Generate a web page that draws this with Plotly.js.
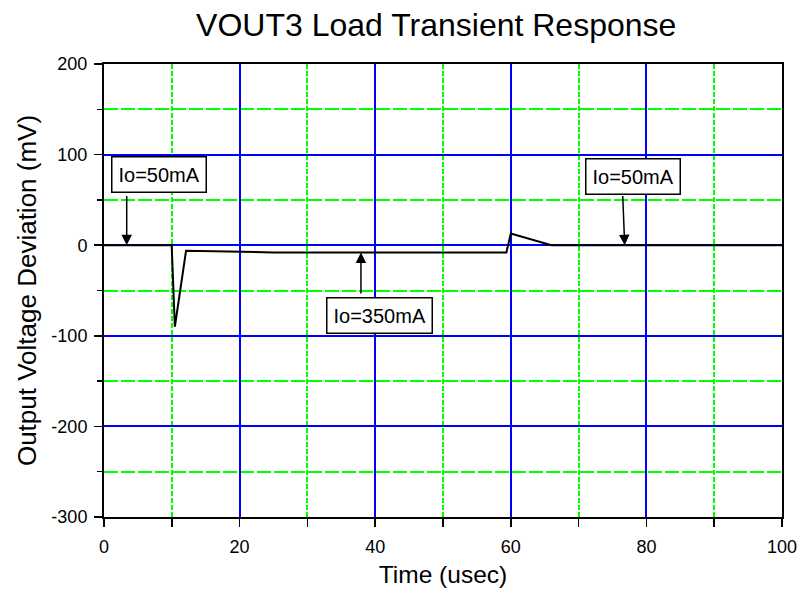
<!DOCTYPE html>
<html><head><meta charset="utf-8">
<script src="https://cdn.plot.ly/plotly-3.0.1.min.js"></script>
<style>html,body{margin:0;padding:0;background:#fff}#chart{width:800px;height:596px}</style>
</head><body><div id="chart"></div>
<script>
var timeUs = [0, 9.98, 10.45, 12.1, 25, 59.35, 60.0, 66.0, 100];
var deviationMv = [0, 0, -90, -6.2, -8, -8, 13, 0, 0];
var xTickVals = [0, 20, 40, 60, 80, 100];
var xTickText = ["0", "20", "40", "60", "80", "100"];
var yTickVals = [200, 100, 0, -100, -200, -300];
var yTickText = ["200", "100", "0", "-100", "-200", "-300"];
var labels = ["Io=50mA", "Io=350mA", "Io=50mA"];
var labelX = [8.1, 40.6, 78.0];
var labelY = [77.5, -77.5, 75.5];
var arrowHeadX = [3.35, 37.9, 76.8];
var arrowHeadY = [0, -8, 0];
var arrowTailX = [3.35, 37.9, 76.5];
var arrowTailY = [56, -55, 56];

var annotations = [];
for (var i = 0; i < labels.length; i++) {
  annotations.push({
    x: arrowHeadX[i], y: arrowHeadY[i], xref: 'x', yref: 'y',
    ax: arrowTailX[i], ay: arrowTailY[i], axref: 'x', ayref: 'y',
    text: '', showarrow: true, arrowhead: 2, arrowsize: 1.4, arrowwidth: 1.5, arrowcolor: '#000', standoff: 0, startstandoff: 0
  });
  annotations.push({
    x: labelX[i], y: labelY[i], xref: 'x', yref: 'y', text: labels[i], showarrow: false,
    font: {family: 'Liberation Sans, Arial', size: 20, color: '#000'},
    bgcolor: '#fff', bordercolor: '#000', borderwidth: 1.5, borderpad: 6
  });
}

var trace = {x: timeUs, y: deviationMv, type: 'scatter', mode: 'lines', line: {color: '#000', width: 2}, hoverinfo: 'none'};

var layout = {
  width: 800, height: 596,
  margin: {l: 104, r: 18, t: 64, b: 79},
  paper_bgcolor: '#fff', plot_bgcolor: '#fff',
  showlegend: false,
  font: {family: 'Liberation Sans, Arial', color: '#000'},
  title: {text: 'VOUT3 Load Transient Response', font: {size: 32, color: '#000'}, xref: 'paper', x: 0.49, xanchor: 'center', y: 0.958, yanchor: 'middle'},
  xaxis: {
    range: [0, 100], tickmode: 'array', tickvals: xTickVals, ticktext: xTickText,
    ticks: 'outside', ticklen: 8, tickwidth: 1.5, tickcolor: '#000', ticklabelstandoff: 4,
    showline: true, linecolor: '#000', linewidth: 2, mirror: true, zeroline: false,
    showgrid: true, gridcolor: '#0000ff', gridwidth: 2,
    tickfont: {size: 18},
    title: {text: 'Time (usec)', font: {size: 24.5}, standoff: 10},
    minor: {dtick: 10, tick0: 0, ticks: 'outside', ticklen: 8, tickwidth: 1.5, tickcolor: '#000', showgrid: true, gridcolor: '#00ff00', gridwidth: 2, griddash: '5px,2px'}
  },
  yaxis: {
    range: [-300, 200], tickmode: 'array', tickvals: yTickVals, ticktext: yTickText,
    ticks: 'outside', ticklen: 8, tickwidth: 1.5, tickcolor: '#000', ticklabelstandoff: 3,
    showline: true, linecolor: '#000', linewidth: 2, mirror: true, zeroline: false,
    showgrid: true, gridcolor: '#0000ff', gridwidth: 2,
    tickfont: {size: 18},
    title: {text: 'Output Voltage Deviation (mV)', font: {size: 26}, standoff: 7},
    minor: {dtick: 50, tick0: 0, ticks: 'outside', ticklen: 5, tickwidth: 1.5, tickcolor: '#000', showgrid: true, gridcolor: '#00ff00', gridwidth: 2, griddash: '14px,3px'}
  },
  annotations: annotations
};
Plotly.newPlot('chart', [trace], layout, {staticPlot: true, displayModeBar: false});
</script></body></html>
